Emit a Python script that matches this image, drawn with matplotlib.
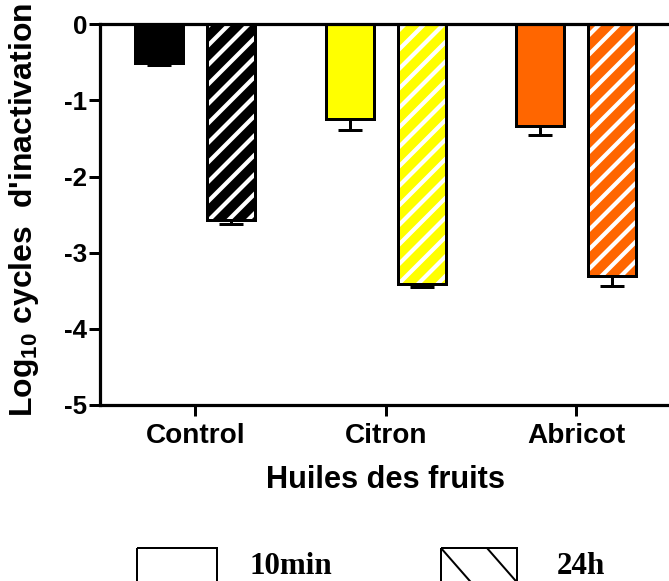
import matplotlib
matplotlib.use("Agg")
import matplotlib.pyplot as plt
import numpy as np
from matplotlib.patches import Rectangle
from matplotlib.lines import Line2D

# ---------------- data ----------------
categories = ["Control", "Citron", "Abricot"]
series_names = ["10min", "24h"]
vals_10min = [-0.51, -1.24, -1.34]
err_10min = [0.02, 0.15, 0.115]
vals_24h = [-2.57, -3.41, -3.31]
err_24h = [0.05, 0.045, 0.125]
colors = ["#000000", "#FFFF00", "#FF6600"]
yticks = [0, -1, -2, -3, -4, -5]
ylabel = "Log$_{10}$ cycles  d'inactivation"
xlabel = "Huiles des fruits"

DPI = 117
def pt(px):
    return px * 72.0 / DPI

plt.rcParams["font.family"] = ["Liberation Sans", "DejaVu Sans"]
plt.rcParams["font.weight"] = "bold"
plt.rcParams["mathtext.fontset"] = "custom"
plt.rcParams["mathtext.rm"] = "Liberation Sans:bold"
plt.rcParams["mathtext.bf"] = "Liberation Sans:bold"
plt.rcParams["mathtext.it"] = "Liberation Sans:bold"
plt.rcParams["mathtext.default"] = "bf"
plt.rcParams["hatch.linewidth"] = pt(4.2)

W, H = 669, 581
fig = plt.figure(figsize=(W / DPI, H / DPI), dpi=DPI)
ax = fig.add_axes([100 / W, 1 - 405 / H, 571.5 / W, (405 - 24.3) / H])

x = np.arange(len(categories))
off = 0.19
bw = 0.252
lw = pt(3)

# 10min bars (solid)
ax.bar(x - off, vals_10min, width=bw, color=colors, edgecolor="black", linewidth=lw, zorder=2)
# 24h bars (hatched white on colour)
ax.bar(x + off, vals_24h, width=bw, color=colors, edgecolor="white", linewidth=0,
       hatch="//", zorder=2)
ax.bar(x + off, vals_24h, width=bw, fill=False, edgecolor="black", linewidth=lw, zorder=3)

# one-sided error bars (downwards)
ax.errorbar(x - off, vals_10min, yerr=[err_10min, np.zeros(3)], fmt="none", ecolor="black",
            elinewidth=lw, capsize=pt(12), capthick=lw, zorder=4)
ax.errorbar(x + off, vals_24h, yerr=[err_24h, np.zeros(3)], fmt="none", ecolor="black",
            elinewidth=lw, capsize=pt(12), capthick=lw, zorder=4)

ax.set_xlim(-0.5, 2.5)
ax.set_ylim(-5, 0)
ax.set_yticks(yticks)
ax.set_yticklabels([str(v) for v in yticks], fontsize=16, fontweight="bold")
ax.set_xticks(x)
ax.set_xticklabels(categories, fontsize=pt(28), fontweight="bold")

ax.spines["right"].set_visible(False)
for s in ["left", "bottom", "top"]:
    ax.spines[s].set_linewidth(pt(3.2))
    ax.spines[s].set_color("black")
ax.spines["top"].set_zorder(5)

ax.tick_params(axis="both", direction="out", length=pt(11), width=pt(3), color="black")
ax.tick_params(axis="y", pad=1)
ax.tick_params(axis="x", pad=pt(7))

ax.set_ylabel(ylabel, fontsize=pt(32), fontweight="bold")
ax.yaxis.set_label_coords(-0.103, 0.512)
ax.set_xlabel(xlabel, fontsize=pt(30.7), fontweight="bold")
ax.xaxis.set_label_coords(0.5, -0.158)

# ---------------- legend (bottom) ----------------
lax = fig.add_axes([0, 0, 1, 1])
lax.set_xlim(0, W)
lax.set_ylim(H, 0)
lax.axis("off")
box_lw = pt(2)
r1 = Rectangle((136.7, 547.7), 80, 40, fill=False, edgecolor="black", linewidth=box_lw)
lax.add_patch(r1)
r2 = Rectangle((440.7, 547.7), 76.6, 40, fill=False, edgecolor="black", linewidth=box_lw)
lax.add_patch(r2)
for x0 in (440.7, 486.7):
    ln = Line2D([x0, x0 + 35], [547.7, 587.7], color="black", linewidth=box_lw)
    lax.add_line(ln)
    ln.set_clip_path(r2)
lax.text(249, 574, series_names[0], fontsize=pt(31), fontweight="bold",
         family=["Liberation Serif", "DejaVu Serif"], ha="left", va="baseline")
lax.text(557, 574, series_names[1], fontsize=pt(31), fontweight="bold",
         family=["Liberation Serif", "DejaVu Serif"], ha="left", va="baseline")

fig.savefig("out.png", dpi=DPI)
